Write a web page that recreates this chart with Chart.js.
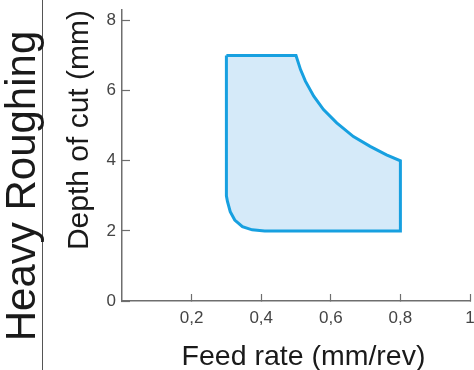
<!DOCTYPE html>
<html>
<head>
<meta charset="utf-8">
<script src="https://cdn.jsdelivr.net/npm/chart.js@4/dist/chart.umd.min.js"></script>
<style>
  html, body { margin: 0; padding: 0; background: #fff; }
  #wrap { position: relative; width: 474px; height: 370px; }
</style>
</head>
<body>
<div id="wrap"><canvas id="zoneChart"></canvas></div>
<script>
// outline of the heavy roughing zone (clockwise from top left)
const feedRate = [0.3, 0.5, 0.513, 0.527, 0.551, 0.579, 0.617, 0.665, 0.713, 0.76, 0.8, 0.8, 0.41, 0.374, 0.346, 0.324, 0.311, 0.303, 0.3, 0.3];
const cutDepth = [7, 7, 6.6, 6.27, 5.84, 5.46, 5.08, 4.69, 4.41, 4.17, 4.0, 2, 2, 2.03, 2.12, 2.31, 2.55, 2.84, 3.0, 7];

const xTicks = [0.2, 0.4, 0.6, 0.8, 1];
const yTicks = [0, 2, 4, 6, 8];

const sideLabel = 'Heavy Roughing';
const xTitle = 'Feed rate (mm/rev)';
const yTitle = 'Depth of cut (mm)';

const FONT = '"Liberation Sans", Arial, sans-serif';

// big rotated label on the left, separator line, x axis title
const extras = {
    id: 'extras',
    afterDraw(chart) {
        const ctx = chart.ctx;
        ctx.save();
        ctx.strokeStyle = '#555';
        ctx.lineWidth = 1;
        ctx.beginPath();
        ctx.moveTo(42.5, 0);
        ctx.lineTo(42.5, chart.height);
        ctx.stroke();

        ctx.fillStyle = '#1a1a1a';
        ctx.font = '28.5px ' + FONT;
        ctx.textAlign = 'center';
        ctx.textBaseline = 'alphabetic';
        ctx.fillText(xTitle, 303.5, 365);

        ctx.translate(35, 186);
        ctx.rotate(-Math.PI / 2);
        ctx.font = '42px ' + FONT;
        ctx.fillText(sideLabel, 0, 0);
        ctx.restore();
    }
};

const points = feedRate.map((x, i) => ({ x: x, y: cutDepth[i] }));

new Chart(document.getElementById('zoneChart'), {
    type: 'scatter',
    data: {
        datasets: [{
            data: points,
            showLine: true,
            fill: 'shape',
            borderColor: '#17a0e0',
            backgroundColor: '#d5eaf9',
            borderWidth: 3,
            borderJoinStyle: 'miter',
            tension: 0,
            pointRadius: 0,
            pointHoverRadius: 0
        }]
    },
    options: {
        responsive: true,
        maintainAspectRatio: false,
        animation: false,
        events: [],
        layout: { padding: { left: 64, top: 10, right: 4, bottom: 0 } },
        plugins: {
            legend: { display: false },
            tooltip: { enabled: false }
        },
        scales: {
            x: {
                type: 'linear',
                min: 0,
                max: 1,
                afterBuildTicks: s => { s.ticks = xTicks.map(v => ({ value: v })); },
                afterFit: s => { s.height = 69; s.paddingLeft = 0; s.paddingRight = 0; },
                border: { color: '#6e6e6e', width: 1.5 },
                grid: { drawOnChartArea: false, drawTicks: true, tickLength: -7, tickColor: '#6e6e6e', tickWidth: 1.2 },
                ticks: {
                    padding: 14,
                    color: '#444',
                    font: { family: FONT, size: 17 },
                    maxRotation: 0,
                    autoSkip: false,
                    callback: v => String(v).replace('.', ',')
                }
            },
            y: {
                type: 'linear',
                min: 0,
                max: 8.3,
                afterBuildTicks: s => { s.ticks = yTicks.map(v => ({ value: v })); },
                afterFit: s => { s.width = 58; s.paddingTop = 0; s.paddingBottom = 0; },
                border: { color: '#6e6e6e', width: 1.5 },
                grid: { drawOnChartArea: false, drawTicks: true, tickLength: -8, tickColor: '#6e6e6e', tickWidth: 1.2 },
                ticks: {
                    padding: 14,
                    color: '#444',
                    font: { family: FONT, size: 17 },
                    autoSkip: false,
                    callback: v => String(v)
                },
                title: {
                    display: true,
                    text: yTitle,
                    align: 'end',
                    color: '#1a1a1a',
                    font: { family: FONT, size: 30, lineHeight: 1.05 },
                    padding: 0
                }
            }
        }
    },
    plugins: [extras]
});
</script>
</body>
</html>
